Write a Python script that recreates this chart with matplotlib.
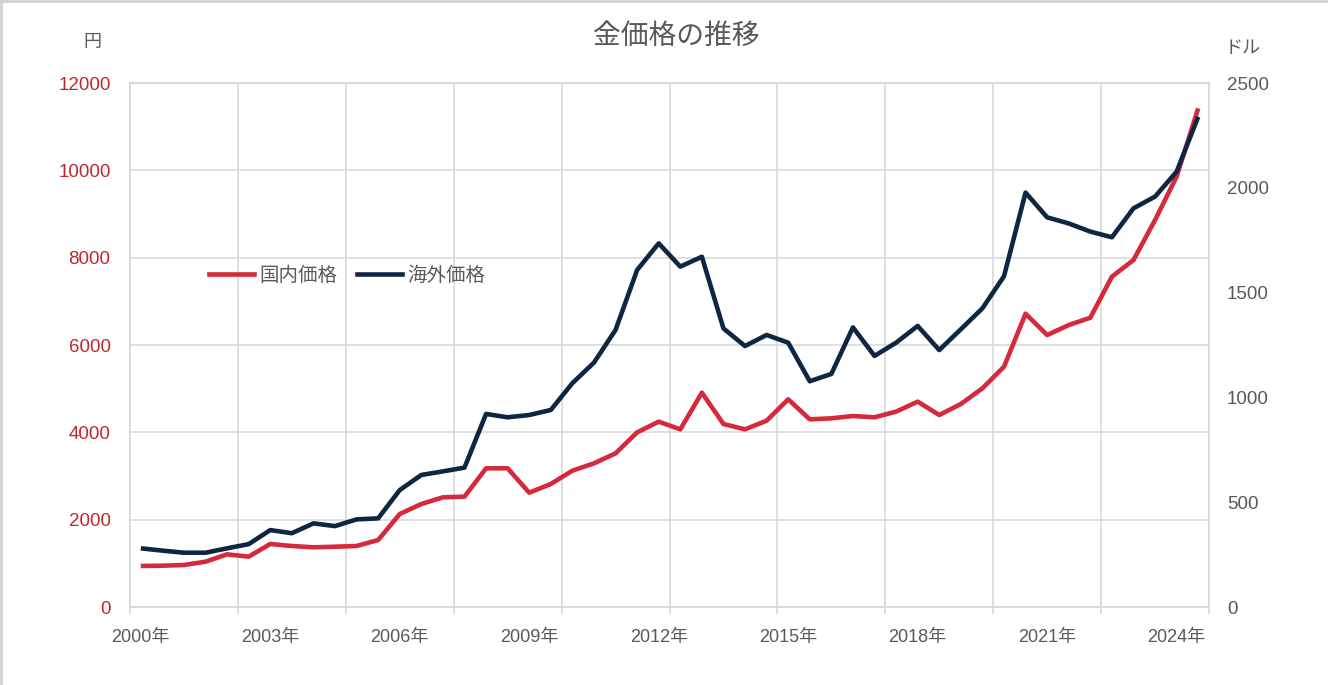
import matplotlib
matplotlib.use("Agg")
import matplotlib.pyplot as plt
from matplotlib.lines import Line2D
import numpy as np

plt.rcParams['font.family'] = ['Liberation Sans', 'Noto Sans CJK JP', 'DejaVu Sans']

# Half-yearly data, 2000 H1 .. 2024 H2
domestic = [939, 946, 962, 1038, 1206, 1153, 1443, 1397, 1367, 1381,
            1397, 1534, 2130, 2359, 2512, 2527, 3176, 3176, 2618, 2817,
            3122, 3290, 3519, 4000, 4244, 4068, 4908, 4191, 4068, 4267,
            4756, 4298, 4321, 4374, 4344, 4474, 4703, 4397, 4649, 5008,
            5503, 6717, 6228, 6457, 6625, 7564, 7946, 8862, 9855, 11420]
overseas = [280, 269, 259, 259, 280, 300, 367, 352, 399, 386,
            418, 423, 558, 630, 647, 665, 921, 905, 916, 940,
            1068, 1166, 1322, 1608, 1735, 1624, 1671, 1329, 1245, 1298,
            1261, 1077, 1112, 1334, 1198, 1261, 1341, 1226, 1325, 1425,
            1578, 1977, 1859, 1830, 1791, 1764, 1902, 1958, 2077, 2339]
year_labels = ["2000年", "2003年", "2006年", "2009年", "2012年",
               "2015年", "2018年", "2021年", "2024年"]
series_names = ["国内価格", "海外価格"]
title = "金価格の推移"

RED = "#D42A3B"
NAVY = "#0F2643"
GRID = "#D9D9D9"
TXT = "#595959"
TICKRED = "#C0272D"

fig = plt.figure(figsize=(13.28, 6.85), dpi=100)
W, H = 1328, 685
L, R, T, B = 130, 1209, 83, 607
ax = fig.add_axes([L / W, 1 - B / H, (R - L) / W, (B - T) / H])
ax2 = ax.twinx()

x = np.arange(len(domestic))
ax.plot(x, domestic, color=RED, lw=3.3, solid_joinstyle='round', solid_capstyle='butt', zorder=3)
ax2.plot(x, overseas, color=NAVY, lw=3.3, solid_joinstyle='round', solid_capstyle='butt', zorder=3)

ax.set_xlim(-0.5, len(x) - 0.5)
ax.set_ylim(0, 12000)
ax2.set_ylim(0, 2500)
ax.set_yticks(np.arange(0, 12001, 2000))
ax2.set_yticks(np.arange(0, 2501, 500))

label_pos = np.arange(0, len(x), 6)
ax.set_xticks(label_pos)
ax.set_xticklabels(year_labels)
ax.set_xticks(np.arange(-0.5, len(x), 5), minor=True)
ax.tick_params(axis='x', which='major', length=0, pad=16, labelsize=13, labelcolor=TXT)
ax.tick_params(axis='x', which='minor', length=5, color=GRID, width=1.2)
ax.tick_params(axis='y', length=0, pad=14, labelsize=13.5, labelcolor=TICKRED)
ax2.tick_params(axis='y', length=0, pad=13, labelsize=13.5, labelcolor=TXT)

ax.grid(True, which='minor', axis='x', color=GRID, lw=1.2)
ax.grid(True, which='major', axis='y', color=GRID, lw=1.2)
ax.grid(False, which='major', axis='x')
ax.set_axisbelow(True)
for a in (ax, ax2):
    for s in a.spines.values():
        s.set_color(GRID)
        s.set_linewidth(1.2)

handles = [Line2D([], [], color=RED, lw=3.3), Line2D([], [], color=NAVY, lw=3.3)]
ax2.legend(handles, series_names, loc='center left', bbox_to_anchor=(0.057, 0.632),
           frameon=False, ncol=2, fontsize=14, handlelength=2.3, handletextpad=0.3,
           columnspacing=1.0, labelcolor=TXT)

fig.text(676 / W, 1 - 37 / H, title, ha='center', va='center', fontsize=20, color=TXT)
fig.text(92 / W, 1 - 43 / H, "円", ha='center', va='center', fontsize=13, color=TXT)
fig.text(1243 / W, 1 - 48 / H, "ドル", ha='center', va='center', fontsize=13, color=TXT)

# light frame on top/left of the image
fig.add_artist(Line2D([0, 1], [0.998, 0.998], transform=fig.transFigure, color="#D0D0D0", lw=2))
fig.add_artist(Line2D([0.001, 0.001], [0, 1], transform=fig.transFigure, color="#D0D0D0", lw=2))

fig.savefig("out.png", dpi=100, facecolor='white')
